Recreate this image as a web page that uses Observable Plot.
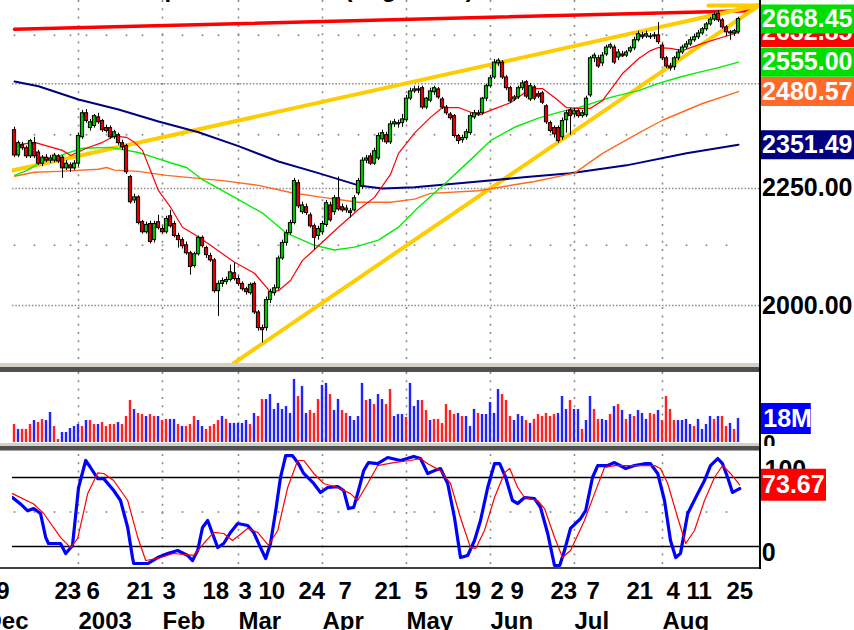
<!DOCTYPE html>
<html>
<head>
<meta charset="utf-8">
<script src="https://cdn.jsdelivr.net/npm/d3@7"></script>
<script src="https://cdn.jsdelivr.net/npm/@observablehq/plot@0.6"></script>
<style>
  body { margin: 0; background: #fff; }
  #chart { position: relative; width: 854px; height: 630px; overflow: hidden; background: #fff;
           font-family: "Liberation Sans", Arial, Helvetica, sans-serif; }
  .abs { position: absolute; }
</style>
</head>
<body>
<div id="chart"></div>
<script>
// ---------------- DATA ----------------
// trading-day index 0 = 9 Dec 2002 ... 181 = 28 Aug 2003
const opens = [2386,2326,2350,2343,2324,2355,2333,2307,2321,2314,2314,2324,2321,2296,2303,2296,2307,2369,2427,2391,
2396,2417,2408,2391,2391,2369,2374,2355,2348,2276,2223,2230,2175,2153,2171,2136,2175,2160,2153,2188,
2171,2145,2136,2125,2108,2081,2106,2141,2119,2102,2093,2029,2044,2048,2052,2066,2054,2044,2033,2025,
2044,1986,1955,1955,2011,2025,2035,2097,2130,2151,2173,2262,2197,2208,2190,2166,2145,2153,2169,2212,
2197,2228,2208,2201,2199,2201,2239,2255,2314,2324,2307,2319,2364,2374,2357,2400,2400,2403,2410,2463,
2481,2486,2489,2441,2458,2479,2486,2461,2441,2424,2420,2372,2362,2367,2379,2417,2424,2427,2463,2494,
2516,2552,2554,2516,2489,2461,2466,2489,2504,2461,2491,2474,2476,2444,2403,2391,2391,2369,2410,2434,
2424,2432,2420,2422,2471,2565,2565,2552,2575,2593,2593,2567,2575,2572,2583,2591,2612,2625,2622,2622,
2622,2625,2598,2565,2544,2542,2565,2580,2593,2601,2612,2620,2630,2641,2654,2667,2683,2665,2646,2633,
2630,2633];
const highs = [2393,2360,2357,2348,2364,2369,2338,2326,2328,2326,2331,2328,2326,2314,2309,2314,2379,2434,2436,2412,
2424,2427,2412,2398,2396,2386,2379,2362,2352,2280,2237,2234,2179,2175,2177,2177,2190,2166,2188,2201,
2177,2151,2141,2132,2112,2110,2145,2145,2123,2108,2097,2050,2056,2058,2083,2087,2060,2048,2037,2046,
2048,1990,1961,2017,2033,2042,2102,2136,2158,2179,2273,2269,2219,2215,2195,2171,2166,2177,2223,2219,
2234,2276,2215,2212,2205,2234,2273,2321,2326,2331,2343,2379,2386,2381,2408,2412,2410,2424,2471,2489,
2494,2494,2494,2466,2489,2494,2491,2466,2446,2429,2424,2376,2374,2388,2427,2434,2434,2466,2499,2521,
2562,2564,2559,2521,2494,2471,2494,2508,2508,2501,2496,2481,2481,2448,2408,2396,2396,2415,2434,2439,
2439,2436,2434,2469,2570,2578,2572,2580,2599,2604,2599,2588,2583,2585,2596,2620,2636,2633,2636,2630,
2633,2659,2604,2570,2552,2570,2588,2599,2609,2620,2628,2638,2646,2659,2673,2688,2691,2670,2651,2638,
2641,2673];
const lows = [2321,2321,2338,2319,2319,2319,2303,2300,2309,2307,2309,2307,2273,2291,2287,2291,2300,2364,2403,2384,
2391,2400,2381,2379,2364,2364,2350,2338,2282,2215,2216,2169,2149,2149,2128,2130,2158,2149,2149,2162,
2141,2119,2117,2104,2062,2077,2102,2119,2097,2089,2025,1978,2037,2042,2048,2050,2039,2029,2021,2021,
1982,1949,1926,1949,2004,2019,2031,2093,2123,2147,2169,2205,2192,2190,2162,2115,2136,2147,2164,2175,
2190,2199,2197,2195,2184,2197,2234,2248,2307,2303,2303,2314,2357,2352,2352,2393,2391,2393,2405,2458,
2476,2476,2436,2436,2453,2471,2461,2436,2422,2410,2367,2352,2355,2362,2374,2412,2420,2422,2456,2489,
2511,2544,2511,2483,2451,2456,2461,2483,2463,2456,2458,2463,2448,2400,2379,2367,2355,2362,2379,2374,
2417,2415,2415,2417,2466,2554,2539,2544,2570,2588,2549,2559,2567,2567,2578,2585,2607,2614,2617,2614,
2614,2601,2559,2539,2532,2534,2559,2575,2588,2596,2607,2614,2625,2636,2649,2662,2659,2641,2622,2612,
2622,2628];
const closes = [2326,2355,2343,2324,2360,2324,2307,2321,2314,2319,2326,2312,2296,2307,2296,2307,2372,2427,2408,2405,
2420,2405,2386,2384,2369,2381,2355,2345,2287,2219,2230,2173,2153,2169,2132,2171,2162,2153,2182,2166,
2145,2136,2123,2108,2079,2106,2141,2123,2104,2093,2029,2044,2050,2052,2068,2054,2044,2033,2027,2042,
1986,1955,1951,2011,2027,2035,2097,2130,2151,2173,2267,2210,2212,2195,2166,2141,2160,2171,2217,2179,
2228,2203,2201,2205,2195,2228,2267,2314,2319,2307,2336,2372,2379,2357,2400,2405,2403,2412,2463,2481,
2486,2483,2441,2463,2481,2489,2466,2441,2427,2415,2372,2360,2367,2381,2420,2427,2427,2463,2494,2514,
2554,2559,2516,2489,2456,2466,2489,2501,2468,2494,2463,2468,2453,2405,2384,2376,2360,2408,2427,2420,
2432,2420,2427,2463,2565,2572,2544,2572,2593,2599,2554,2580,2570,2580,2591,2612,2628,2620,2628,2620,
2625,2607,2565,2544,2539,2565,2580,2593,2601,2612,2620,2630,2641,2654,2667,2680,2665,2646,2633,2630,
2636,2668.45];

// volume in millions, and bar colour (u = blue, d = red)
const volumes = [13.5,9.8,9.8,9.8,13.5,16.5,15,17.3,16.5,22.5,12,2.3,7.5,7.5,10.5,12,13.5,12,16.5,16.5,
13.5,13.5,15,12,13.5,13.5,15,13.5,19.5,31.5,24.8,21.8,21,19.5,21,19.5,19.5,16.5,17.3,17.3,
17.3,13.5,12,12,13.5,19.5,16.5,12,9.8,12,13.5,16.5,19.5,17.3,14.3,14.3,14.3,14.3,16.5,13.5,
21.8,19.5,32.3,32.3,36,24.8,29.3,24.8,27,21.8,47.3,34.5,42,21.8,24,21.8,32.3,42.8,44.3,36,
24,32.3,24,21.8,19.5,16.5,19.5,44.3,31.5,32.3,28.5,36,32.3,28.5,39.8,19.5,21,21,18.8,44.3,
27,31.5,31.5,24,16.5,17.3,17.3,14.3,28.5,24,21,21.8,19.5,19.5,12,24.8,21.8,21,21,30,
21.8,39.8,36,31.5,19.5,16.5,21,19.5,16.5,14.3,17.3,21,19.5,21.8,19.5,21,21.8,34.5,24.8,31.5,
24.8,24.8,9.8,16.5,34.5,24.8,17.3,17.3,16.5,21,27,28.5,24,17.3,21,19.5,24,21.8,17.3,21.8,
21,24,16.5,34.5,24.8,16.5,16.5,16.5,17.3,13.5,12,17.3,9.8,13.5,19.5,17.3,19.5,19.5,12,14.3,
9.8,18];
const volDir = ["d","u","d","d","d","u","d","d","u","u","d","d","u","u","u","u","u","d","u","d",
"d","u","d","d","d","d","u","d","d","d","u","d","d","u","d","d","u","d","d","u",
"u","d","u","d","d","d","u","u","d","d","d","d","u","d","u","u","u","u","u","d",
"u","d","d","u","u","u","u","u","u","u","u","d","u","u","d","d","d","u","u","d",
"u","u","d","d","u","u","u","u","d","u","d","u","u","d","d","u","u","u","d","u",
"u","u","d","d","u","d","d","d","d","d","d","u","d","u","u","u","d","u","u","u",
"u","u","d","d","d","u","u","u","d","u","d","d","d","d","d","d","u","u","u","d",
"u","u","d","u","u","d","d","u","u","d","u","d","u","d","u","d","u","u","u","d",
"d","u","d","d","d","d","u","u","u","u","d","u","u","u","u","d","u","d","d","u",
"d","u"];

// moving averages [day index, value]
const maRed = [[0,2350],[5,2357],[12,2338],[14,2326],[18,2343],[22,2357],[25,2372],[28,2369],[30,2357],[32,2338],
[34,2291],[36,2245],[39,2208],[42,2164],[46,2143],[49,2125],[55,2089],[60,2066],[64,2027],[66,2030],[69,2051],
[72,2093],[74,2108],[77,2132],[81,2164],[86,2203],[90,2230],[94,2282],[96,2331],[100,2379],[104,2417],[107,2441],
[111,2441],[116,2422],[119,2434],[124,2453],[129,2488],[132,2488],[135,2466],[138,2441],[141,2439],[144,2439],
[147,2458],[152,2526],[156,2564],[159,2585],[161,2593],[164,2591],[167,2585],[172,2604],[177,2620],[181,2632.85]];
const maGreen = [[0,2280],[3,2291],[7,2312],[13,2331],[17,2343],[24,2345],[31,2333],[35,2321],[39,2309],[43,2298],
[47,2270],[55,2230],[62,2195],[68,2151],[75,2125],[80,2115],[85,2121],[91,2136],[96,2164],[101,2208],[108,2264],
[113,2307],[119,2361],[125,2393],[131,2415],[136,2429],[141,2441],[149,2466],[156,2483],[161,2501],[166,2516],
[171,2529],[176,2541],[181,2555]];
const maOrange = [[0,2278],[5,2287],[11,2289],[21,2294],[23,2298],[25,2292],[31,2289],[38,2280],[46,2273],[52,2268],
[61,2257],[69,2241],[77,2230],[86,2219],[94,2219],[100,2226],[104,2239],[116,2245],[130,2266],[140,2285],
[147,2331],[156,2379],[162,2410],[172,2451],[181,2480.57]];
const maNavy = [[0,2506],[6,2494],[16,2461],[26,2436],[36,2407],[46,2381],[56,2348],[66,2312],[76,2285],[86,2257],
[92,2250],[100,2253],[114,2264],[128,2276],[139,2285],[153,2303],[168,2331],[181,2351.49]];
const topBand = [[0,2641],[184,2691]];
const trendUpper = [[-0.5,2291],[186.5,2707]];
const trendLower = [[54.75,1887],[186.5,2708]];
const trendTop = [[173.5,2705],[186.5,2705]];

// stochastic %K (blue) and %D (red)
const stochK = [[-0.5,62.6],[1.5,57],[3.3,51],[4.8,53],[6.5,48.7],[7.8,28],[8.5,22.6],[11.5,22.6],[12.8,13.9],[14.5,20.9],
[16,71],[17.8,94.8],[19,88.7],[20.8,79],[22.3,79],[24.8,68.7],[26.5,60],[28.3,36.5],[29.5,10.4],[29.8,5.2],[33.3,5.2],
[35.8,10.4],[38.3,13.9],[40.8,16.5],[43.3,12.2],[44.5,7.8],[45.8,16.5],[47,36.5],[48.3,42.6],[49.5,31.3],[50.8,19.1],
[52.3,22.6],[54,32.2],[55.8,40],[58.3,38.3],[59.8,32.2],[61.5,19.1],[62.8,9.6],[64,22.6],[65.3,51],[66.5,80],[67.8,99],
[69.5,99],[71,92],[72.3,83.5],[74.8,74.8],[76.5,67],[78.3,71.3],[80.8,72],[82.3,68.7],[83.5,53],[84.8,54],[86,68.7],
[87.3,86],[88.5,93],[90.8,92],[93.3,97.4],[96.5,94.8],[99.8,98.3],[101.5,96.5],[103.3,83.5],[105,86],[106.5,87.8],
[108.3,74.8],[110,45],[111.5,10.4],[113.3,12.2],[115,25.2],[116.5,42.6],[118.3,71.3],[120,92],[121.3,92],[122.8,80],
[124.5,60],[125.8,57.4],[127.5,62.6],[130,61.7],[131.5,54],[133.3,31.3],[135,3.5],[136.3,3.5],[137.5,16.5],[139,35.7],
[141.5,44.3],[142.8,51.3],[144.5,80],[145.8,90.4],[148.3,90.4],[150,93],[152.8,87.8],[155,90.4],[157.5,92],[159,92],
[160.8,83.5],[162.5,60],[164,25.2],[165.3,10.4],[166.5,14],[168.3,48.7],[170.8,66],[172.5,77.4],[174,90.4],[175.8,96.5],
[177,92],[178.3,80],[179.5,67],[181.3,70.4]];
const stochD = [[-0.5,66],[4.8,57],[7.3,48.7],[11.5,28],[14,19],[15.8,27],[18.3,66],[20.8,84],[22.3,83.5],[24.8,77.4],
[28.3,60],[30.8,28],[32.8,7.8],[35.8,9.6],[39.8,13.9],[44.8,12.2],[47.3,22.6],[49.8,32.2],[52.3,31.3],[54.5,25.2],
[58.3,35.7],[60.8,32.2],[63.5,20.9],[65.8,33.9],[68.3,71.3],[70.8,94.8],[72.3,94.8],[74.8,83.5],[77.3,74.8],[80.8,71.3],
[84,66],[85.8,60],[88.3,74.8],[90.8,90.4],[94.8,93],[99,94.8],[101.5,96.5],[103.3,92],[106.5,86],[109,74.8],[111.5,45],
[114,19],[115.3,18.3],[117.5,33.9],[120,62.6],[122.5,84],[123.8,87.8],[125.8,71.3],[127.5,62.6],[130.8,60],[132.5,53],
[135,28],[137,10.4],[139,16.5],[142.5,42.6],[145,66],[147.5,88.7],[150,90.4],[155,90.4],[160,90.4],[161.5,87.8],
[163.3,74.8],[165.8,45],[167.8,22.6],[170,33.9],[172.5,60],[175,80],[177,90.4],[179,83.5],[181.3,73.67]];

// axis labels [day index, text]
const dayTicks = [[10,"23"],[18,"6"],[28,"21"],[37,"3"],[47,"18"],[56,"3"],[61,"10"],[71,"24"],[81,"7"],[90,"21"],
[100,"5"],[110,"19"],[119,"2"],[124,"9"],[134,"23"],[143,"7"],[153,"21"],[163,"4"],[168,"11"],[178,"25"]];
const firstDayTick = [[0,"9"]];
const monthTicks = [[-7.5,"Dec"],[16,"2003"],[37,"Feb"],[56,"Mar"],[77,"Apr"],[98,"May"],[119,"Jun"],[140,"Jul"],[162,"Aug"]];
const monthStarts = [16,37,56,77,98,119,140,162];
const weekStarts = [0,5,10,14,18,23,28,32,37,42,47,51,56,61,66,71,76,81,86,90,95,100,105,110,115,119,124,129,134,139,143,148,153,158,163,168,173,178];
const majorLevels = [2000,2250,2500];
const minorLevels = [2125,2375,2625];
const priceAxisLabels = [2250,2000];
const lastValues = [2632.85,2668.45,2555.00,2480.57,2351.49];
const stochLevels = [80,20];
const stochLast = 73.67;
const volLast = 18;
const titleText = "Dow Jones Transportation Index (Log Scale)";

// ---------------- DRAWING ----------------
const FONT = "Liberation Sans, Arial, Helvetica, sans-serif";
const GRID = "#8c8c8c";
const chart = document.getElementById("chart");
const xScale = {domain: [-0.5, 186.5], axis: null};
const base = {width: 854, marginLeft: 12, marginRight: 94};

function place(node, top, overflow = "visible") {
  node.style.position = "absolute";
  node.style.left = "0px";
  node.style.top = top + "px";
  node.style.background = "transparent";
  node.style.overflow = overflow;
  chart.appendChild(node);
}
function div(left, top, w, h, bg) {
  const d = document.createElement("div");
  d.className = "abs";
  Object.assign(d.style, {left: left + "px", top: top + "px", width: w + "px", height: h + "px", background: bg});
  chart.appendChild(d);
}

// title: only its lowest pixels show above the chart, as in the picture
const t = document.createElement("div");
t.className = "abs";
t.textContent = titleText;
Object.assign(t.style, {left: "-33px", top: "-25px", lineHeight: "24px",
  font: `bold 24px ${FONT}`, color: "#000", whiteSpace: "nowrap"});
chart.appendChild(t);

const candles = closes.map((c, i) => ({i, o: opens[i], h: highs[i], l: lows[i], c}));
const minorDots = weekStarts.flatMap(i => minorLevels.map(v => ({i, v})));
const P = d => d[0], V = d => d[1];
const labelColors = ["#ff0000", "#00dd00", "#00dd00", "#ff6a2a", "#000080"];

const boxLabels = lastValues.flatMap((v, k) => [
  Plot.ruleY([v], {x1: 186.75, x2: 215, stroke: labelColors[k], strokeWidth: 29}),
  Plot.text([v], {x: 186.9, y: d => d, text: d => d.toFixed(2), fill: "white", textAnchor: "start",
    fontSize: 25, fontWeight: "bold", fontFamily: FONT})
]);

const price = Plot.plot({
  ...base, height: 366, marginTop: 0, marginBottom: 1,
  x: xScale,
  y: {type: "log", domain: [1882.8, 2718.7], axis: null},
  marks: [
    Plot.ruleX(monthStarts, {x: d => d, stroke: GRID, strokeWidth: 1.6, strokeDasharray: "2,6.3"}),
    Plot.ruleY(majorLevels, {y: d => d, stroke: GRID, strokeWidth: 1.5, strokeDasharray: "1.5,1.8"}),
    Plot.dot(minorDots, {x: "i", y: "v", r: 1, fill: GRID}),
    Plot.line(topBand, {x: P, y: V, stroke: "#ff0000", strokeWidth: 3.5, clip: true}),
    Plot.line(trendUpper, {x: P, y: V, stroke: "#ffcc00", strokeWidth: 4, clip: true}),
    Plot.line(trendLower, {x: P, y: V, stroke: "#ffcc00", strokeWidth: 4, clip: true}),
    Plot.line(trendTop, {x: P, y: V, stroke: "#ffcc00", strokeWidth: 4, clip: true}),
    Plot.line(maNavy, {x: P, y: V, stroke: "#000080", strokeWidth: 2}),
    Plot.line(maOrange, {x: P, y: V, stroke: "#ff6a20", strokeWidth: 1.4}),
    Plot.line(maGreen, {x: P, y: V, stroke: "#00ee00", strokeWidth: 1.4}),
    Plot.line(maRed, {x: P, y: V, stroke: "#ff0000", strokeWidth: 1.2}),
    Plot.ruleX(candles, {x: "i", y1: "l", y2: "h", stroke: "#000", strokeWidth: 1}),
    Plot.rect(candles, {x1: d => d.i - 0.4, x2: d => d.i + 0.4, y1: "o", y2: "c",
      fill: d => d.c >= d.o ? "#00c000" : "#e00000", stroke: "#000", strokeWidth: 1}),
    Plot.text(priceAxisLabels, {x: 186.9, y: d => d, text: d => d.toFixed(2), fill: "#000", textAnchor: "start",
      fontSize: 25, fontWeight: "bold", fontFamily: FONT}),
    ...boxLabels
  ]
});
place(price, 0);

const vols = volumes.map((v, i) => ({i, v, up: volDir[i] === "u"}));
const volume = Plot.plot({
  ...base, height: 74, marginTop: 0, marginBottom: 4,
  x: xScale,
  y: {domain: [0, 52.5], axis: null},
  marks: [
    Plot.ruleX(monthStarts, {x: d => d, stroke: GRID, strokeWidth: 1.6, strokeDasharray: "2,6.3"}),
    Plot.rectY(vols, {x1: d => d.i - 0.3, x2: d => d.i + 0.3, y1: 0, y2: "v",
      fill: d => d.up ? "#2222ff" : "#ff2222"}),
    Plot.text([0], {x: 187.2, y: d => d, text: d => String(d), fill: "#000", textAnchor: "start",
      fontSize: 22, fontWeight: "bold", fontFamily: FONT}),
    Plot.ruleY([volLast], {x1: 186.75, x2: 199.2, stroke: "#0000ff", strokeWidth: 31}),
    Plot.text([volLast], {x: 187.2, y: d => d, text: d => d + "M", fill: "white", textAnchor: "start",
      fontSize: 25, fontWeight: "bold", fontFamily: FONT})
  ]
});
place(volume, 372, "hidden");

const stoch = Plot.plot({
  ...base, height: 120, marginTop: 4, marginBottom: 1,
  x: xScale,
  y: {domain: [0, 100], axis: null},
  marks: [
    Plot.ruleX(monthStarts, {x: d => d, stroke: GRID, strokeWidth: 1.6, strokeDasharray: "2,6.3"}),
    Plot.dot(weekStarts, {x: d => d, y: 50, r: 1, fill: GRID}),
    Plot.ruleY(stochLevels, {y: d => d, x1: -0.5, x2: 186.5, stroke: "#000", strokeWidth: 1.5}),
    Plot.line(stochK, {x: P, y: V, stroke: "#0000ff", strokeWidth: 3.2, clip: true}),
    Plot.line(stochD, {x: P, y: V, stroke: "#ff0000", strokeWidth: 1.2, clip: true}),
    Plot.text([100], {x: 187.5, y: d => d, text: d => String(d), fill: "#000", textAnchor: "start",
      lineAnchor: "top", dy: 6, fontSize: 25, fontWeight: "bold", fontFamily: FONT}),
    Plot.text([0], {x: 186.8, y: d => d, text: d => String(d), fill: "#000", textAnchor: "start",
      lineAnchor: "bottom", dy: -9, fontSize: 25, fontWeight: "bold", fontFamily: FONT}),
    Plot.ruleY([stochLast], {x1: 186.75, x2: 203, stroke: "#ff0000", strokeWidth: 32}),
    Plot.text([stochLast], {x: 186.9, y: d => d, text: d => d.toFixed(2), fill: "white", textAnchor: "start",
      fontSize: 25, fontWeight: "bold", fontFamily: FONT})
  ]
});
place(stoch, 450);

const axis = Plot.plot({
  ...base, height: 60, marginTop: 0, marginBottom: 0,
  x: xScale,
  marks: [
    Plot.text(firstDayTick, {x: P, text: V, frameAnchor: "top", lineAnchor: "bottom", dy: 28, dx: -5,
      textAnchor: "end", fontSize: 24, fontWeight: "bold", fontFamily: FONT, fill: "#000"}),
    Plot.text(dayTicks, {x: P, text: V, frameAnchor: "top", lineAnchor: "bottom", dy: 28,
      textAnchor: "start", fontSize: 24, fontWeight: "bold", fontFamily: FONT, fill: "#000"}),
    Plot.text(monthTicks, {x: P, text: V, frameAnchor: "top", lineAnchor: "bottom", dy: 58,
      textAnchor: "start", fontSize: 24, fontWeight: "bold", fontFamily: FONT, fill: "#000"})
  ]
});
place(axis, 570);

// panel separators and frame
div(0, 363, 760, 4, "#d4d0c8");
div(0, 367, 760, 5, "#505050");
div(0, 443, 760, 3, "#d4d0c8");
div(0, 446, 760, 4, "#505050");
div(0, 450, 760, 1, "#a0a0a0");
div(0, 567, 760, 1.5, "#404040");
div(759, 0, 2, 569, "#000");
</script>
</body>
</html>
